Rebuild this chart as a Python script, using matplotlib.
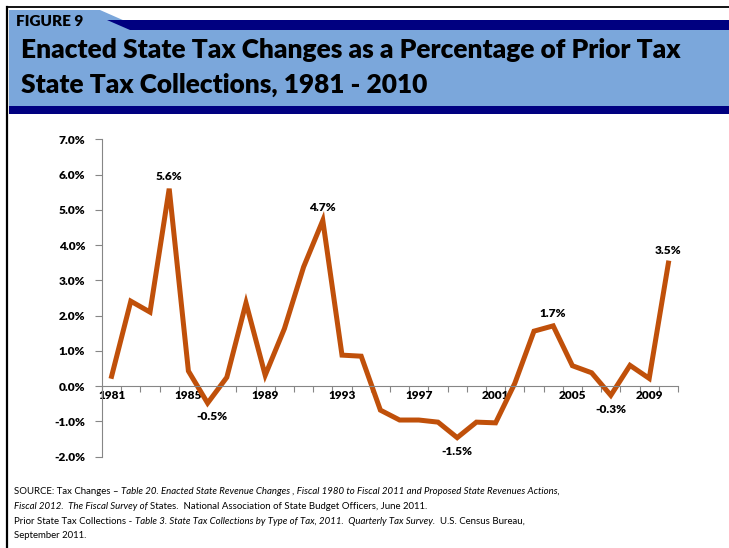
import matplotlib.pyplot as plt
from matplotlib.patches import Rectangle, Polygon
from matplotlib.lines import Line2D
from matplotlib.ticker import FixedLocator, FuncFormatter

years = list(range(1981, 2011))
pct_change = [0.28, 2.41, 2.10, 5.60, 0.43, -0.48, 0.25, 2.36, 0.31, 1.63,
              3.38, 4.70, 0.88, 0.85, -0.68, -0.96, -0.96, -1.02, -1.46, -1.02,
              -1.04, 0.08, 1.56, 1.71, 0.58, 0.38, -0.26, 0.59, 0.22, 3.49]
labelled_years = {1984: 'above', 1986: 'below', 1992: 'above', 1999: 'below',
                  2004: 'above', 2007: 'below', 2010: 'above'}
tick_years = [1981, 1985, 1989, 1993, 1997, 2001, 2005, 2009]

W, H = 729, 548
FONT = ['Lato', 'DejaVu Sans']
LIGHT_BLUE = '#7BA7DB'
NAVY = '#000080'
LINE_COLOR = '#C0500A'
AXIS_GRAY = '#868686'
SRC_SIZE = 6.9

plt.rcParams['font.family'] = FONT


def fx(px):
    return px / W


def fy(py):
    return 1 - py / H


fig = plt.figure(figsize=(W / 100, H / 100), dpi=100)

# header band
fig.add_artist(Polygon([(fx(9), fy(10)), (fx(100), fy(10)), (fx(125), fy(21)),
                        (fx(W), fy(21)), (fx(W), fy(106)), (fx(9), fy(106))],
                       closed=True, transform=fig.transFigure,
                       facecolor=LIGHT_BLUE, edgecolor='none'))
fig.add_artist(Polygon([(fx(107), fy(20)), (fx(W), fy(20)), (fx(W), fy(30)),
                        (fx(130), fy(30))],
                       closed=True, transform=fig.transFigure,
                       facecolor=NAVY, edgecolor='none'))
fig.add_artist(Rectangle((fx(9), fy(114)), fx(W - 9), 8 / H,
                         transform=fig.transFigure, facecolor=NAVY,
                         edgecolor='none'))
# outer frame (top and left)
fig.add_artist(Line2D([fx(7), fx(W)], [fy(7), fy(7)], transform=fig.transFigure,
                      color='black', lw=1.3))
fig.add_artist(Line2D([fx(7), fx(7)], [fy(7), fy(H)], transform=fig.transFigure,
                      color='black', lw=1.6))

fig.text(fx(16), fy(22), 'FIGURE 9', fontsize=11, fontweight='heavy',
         va='center', ha='left')
fig.text(fx(21), fy(50), 'Enacted State Tax Changes as a Percentage of Prior Tax',
         fontsize=18.9, fontweight='heavy', va='center', ha='left')
fig.text(fx(21), fy(85), 'State Tax Collections, 1981 - 2010',
         fontsize=18.9, fontweight='heavy', va='center', ha='left')

# chart
ax = fig.add_axes([fx(102), fy(456.7), fx(678 - 102), (456.7 - 139.3) / H])
x = list(range(len(years)))
ax.plot(x, pct_change, color=LINE_COLOR, lw=3.6, solid_joinstyle='miter')
ax.set_xlim(-0.5, len(years) - 0.5)
ax.set_ylim(-2, 7)

for s in ['top', 'right']:
    ax.spines[s].set_visible(False)
ax.spines['left'].set_color(AXIS_GRAY)
ax.spines['bottom'].set_color(AXIS_GRAY)
ax.spines['bottom'].set_position(('data', 0))

ax.yaxis.set_major_locator(FixedLocator(list(range(-2, 8))))
ax.yaxis.set_major_formatter(FuncFormatter(lambda v, _: f'{v:.1f}%'))
ax.tick_params(axis='y', direction='out', length=5, color=AXIS_GRAY, pad=7,
               labelsize=8.6)
for lab in ax.get_yticklabels():
    lab.set_fontweight('heavy')

ax.xaxis.set_major_locator(FixedLocator([i - 0.5 for i in range(len(years) + 1)]))
ax.xaxis.set_major_formatter(FuncFormatter(lambda v, _: ''))
ax.xaxis.set_minor_locator(FixedLocator([years.index(y) for y in tick_years]))
ax.xaxis.set_minor_formatter(FuncFormatter(lambda v, _: str(years[int(round(v))])))
ax.tick_params(axis='x', which='major', direction='out', length=4, color=AXIS_GRAY)
ax.tick_params(axis='x', which='minor', length=0, pad=3, labelsize=8.6)
for lab in ax.get_xticklabels(minor=True):
    lab.set_fontweight('heavy')

for yr, pos in labelled_years.items():
    i = years.index(yr)
    v = pct_change[i]
    off = 9 if pos == 'above' else -10
    ax.annotate(f'{v:.1f}%', (i, v), xytext=(3 if yr == 1986 else 0, off),
                textcoords='offset points', ha='center', va='center',
                fontsize=8.6, fontweight='heavy')

# source notes with mixed italic runs
renderer = fig.canvas.get_renderer()


def run_width(txt, style):
    a = fig.text(0, 0, '|' + txt + '|', fontsize=SRC_SIZE, style=style)
    b = fig.text(0, 0, '||', fontsize=SRC_SIZE, style=style)
    w = a.get_window_extent(renderer).width - b.get_window_extent(renderer).width
    a.remove()
    b.remove()
    return w


def draw_runs(x0, y0, runs):
    xp = x0
    for txt, style in runs:
        fig.text(fx(xp), fy(y0), txt, fontsize=SRC_SIZE, style=style,
                 va='center', ha='left')
        xp += run_width(txt, style)


source_lines = [
    [('SOURCE: Tax Changes \u2013 ', 'normal'),
     ('Table 20. Enacted State Revenue Changes , Fiscal 1980 to Fiscal 2011 and Proposed State Revenues Actions,', 'italic')],
    [('Fiscal 2012.  The Fiscal Survey of ', 'italic'),
     ('States.  National Association of State Budget Officers, June 2011.', 'normal')],
    [('Prior State Tax Collections - ', 'normal'),
     ('Table 3. State Tax Collections by Type of Tax, 2011.  Quarterly Tax Survey.', 'italic'),
     ('  U.S. Census Bureau,', 'normal')],
    [('September 2011.', 'normal')],
]
for k, runs in enumerate(source_lines):
    draw_runs(14, 492 + k * 14.5, runs)

fig.savefig('out.png', dpi=100)
